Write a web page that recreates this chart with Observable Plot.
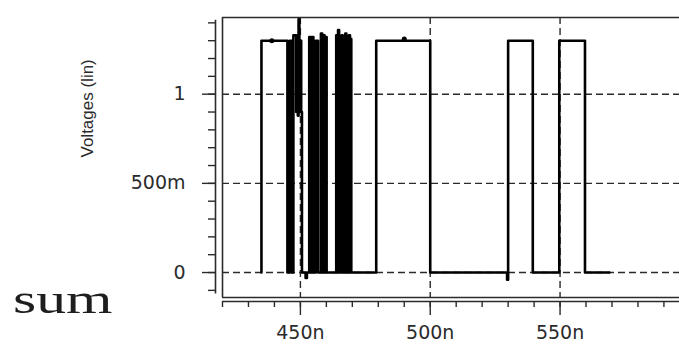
<!DOCTYPE html>
<html>
<head>
<meta charset="utf-8">
<script src="https://cdn.jsdelivr.net/npm/d3@7"></script>
<script src="https://cdn.jsdelivr.net/npm/@observablehq/plot@0.6"></script>
<style>
  html, body { margin: 0; padding: 0; background: #fff; }
  #wrap { position: relative; width: 679px; height: 349px; overflow: hidden; }
  #sum {
    position: absolute; left: 13px; top: 278px;
    font-family: "Liberation Serif", "DejaVu Serif", serif;
    font-size: 42px; line-height: 1; color: #1e1e1e;
    transform-origin: left top; transform: scaleX(1.42);
  }
</style>
</head>
<body>
<div id="wrap"><div id="chart"></div><div id="sum"></div></div>
<script>
// ---- data ----
const waveTime = [
  435.0, 435.0, 445.0, 445.9, 446.7, 447.3, 448.4, 448.7, 449.0, 449.3,
  449.6, 449.9, 450.3, 450.6, 452.0, 452.5, 453.4, 453.9, 454.4, 455.0,
  455.9, 456.8, 457.9, 458.4, 458.8, 459.3, 459.6, 460.1, 463.8, 464.2,
  464.5, 464.9, 465.2, 465.6, 465.9, 466.3, 466.6, 467.0, 467.3, 467.7,
  468.0, 468.4, 468.7, 469.1, 469.3, 469.6, 479.2, 500.0, 529.6, 530.0,
  539.5, 549.7, 559.6, 569.0
];
const waveVolt = [
  0, 1.30, 0, 1.30, 0, 1.33, 0.90, 1.30, 0.88, 1.42,
  0.90, 1.30, 0.90, 0, -0.03, 0, 1.32, 0, 1.32, 0,
  1.30, 0, 1.34, 0, 1.33, 0, 1.32, 0, 1.33, 0,
  1.36, 0, 1.32, 0, 1.33, 0, 1.32, 0, 1.34, 0,
  1.32, 0, 1.33, 0, 1.31, 0, 1.30, 0, -0.04, 1.30,
  0, 1.30, 0, 0
];
const markerTime = [439, 490];
const markerVolt = [1.30, 1.31];

const yMajorTicks = [0, 0.5, 1];
const yMajorLabels = ["0", "500m", "1"];
const yMinorTicks = [-0.1, 0, 0.1, 0.2, 0.3, 0.4, 0.5, 0.6, 0.7, 0.8, 0.9, 1.0, 1.1, 1.2, 1.3, 1.4];
const xMajorTicks = [450, 500, 550];
const xMajorLabels = ["450n", "500n", "550n"];
const xMinorTicks = [420, 430, 440, 450, 460, 470, 480, 490, 500, 510, 520, 530, 540, 550, 560, 570, 580, 590];
const xDomain = [420, 596];
const yDomain = [-0.14, 1.43];
const yLabel = "Voltages (lin)";
const sideLabel = "sum";

// ---- build ----
const wave = waveTime.map((t, i) => ({t, v: waveVolt[i]}));
const markers = markerTime.map((t, i) => ({t, v: markerVolt[i]}));
const ink = "#2b2b2b";
const tickFont = "DejaVu Sans, sans-serif";

const chart = Plot.plot({
  width: 679,
  height: 349,
  marginLeft: 222,
  marginRight: 0,
  marginTop: 17,
  marginBottom: 52,
  x: {domain: xDomain, axis: null, label: null},
  y: {domain: yDomain, axis: null, label: null},
  style: {fontFamily: "Liberation Sans, Arial, sans-serif", background: "white", color: ink, overflow: "visible"},
  marks: [
    // dashed grid
    Plot.ruleY(yMajorTicks, {stroke: ink, strokeWidth: 1.4, strokeDasharray: "7,4"}),
    Plot.ruleX(xMajorTicks, {stroke: ink, strokeWidth: 1.4, strokeDasharray: "7,4"}),
    // frame: top, bottom, left
    Plot.ruleY([yDomain[1], yDomain[0]], {stroke: ink, strokeWidth: 1.6}),
    Plot.ruleX([xDomain[0]], {stroke: ink, strokeWidth: 1.6}),
    // detached x axis line
    Plot.ruleY([yDomain[0]], {dy: 4, stroke: ink, strokeWidth: 1.6}),
    // detached y axis line
    Plot.ruleX([xDomain[0]], {dx: -7, y1: d3.min(yMinorTicks) - 0.02, y2: d3.max(yMinorTicks) + 0.015, stroke: ink, strokeWidth: 1.6}),
    // y ticks
    Plot.axisY(yMinorTicks, {anchor: "left", dx: -7, tickSize: 7, text: null, label: null, strokeWidth: 1.4}),
    Plot.axisY(yMajorTicks, {anchor: "left", dx: -7, tickSize: 13, tickPadding: 17, label: null,
      tickFormat: d => yMajorLabels[yMajorTicks.indexOf(d)], fontSize: 19, fontFamily: tickFont, strokeWidth: 1.4}),
    // x ticks
    Plot.axisX(xMinorTicks, {anchor: "bottom", dy: 4, tickSize: 6, text: null, label: null, strokeWidth: 1.4}),
    Plot.axisX(xMajorTicks, {anchor: "bottom", dy: 4, tickSize: 14, tickPadding: 10, label: null,
      tickFormat: d => xMajorLabels[xMajorTicks.indexOf(d)], fontSize: 19, fontFamily: tickFont, strokeWidth: 1.4}),
    // y label
    Plot.text([yLabel], {frameAnchor: "left", dx: -135, rotate: -90, text: d => d, fontSize: 17, fill: ink}),
    // waveform
    Plot.line(wave, {x: "t", y: "v", curve: "step-after", stroke: "#000", strokeWidth: 2.6}),
    Plot.dot(markers, {x: "t", y: "v", r: 2.5, fill: "#000"})
  ]
});
document.getElementById("chart").appendChild(chart);
document.getElementById("sum").textContent = sideLabel;
</script>
</body>
</html>
